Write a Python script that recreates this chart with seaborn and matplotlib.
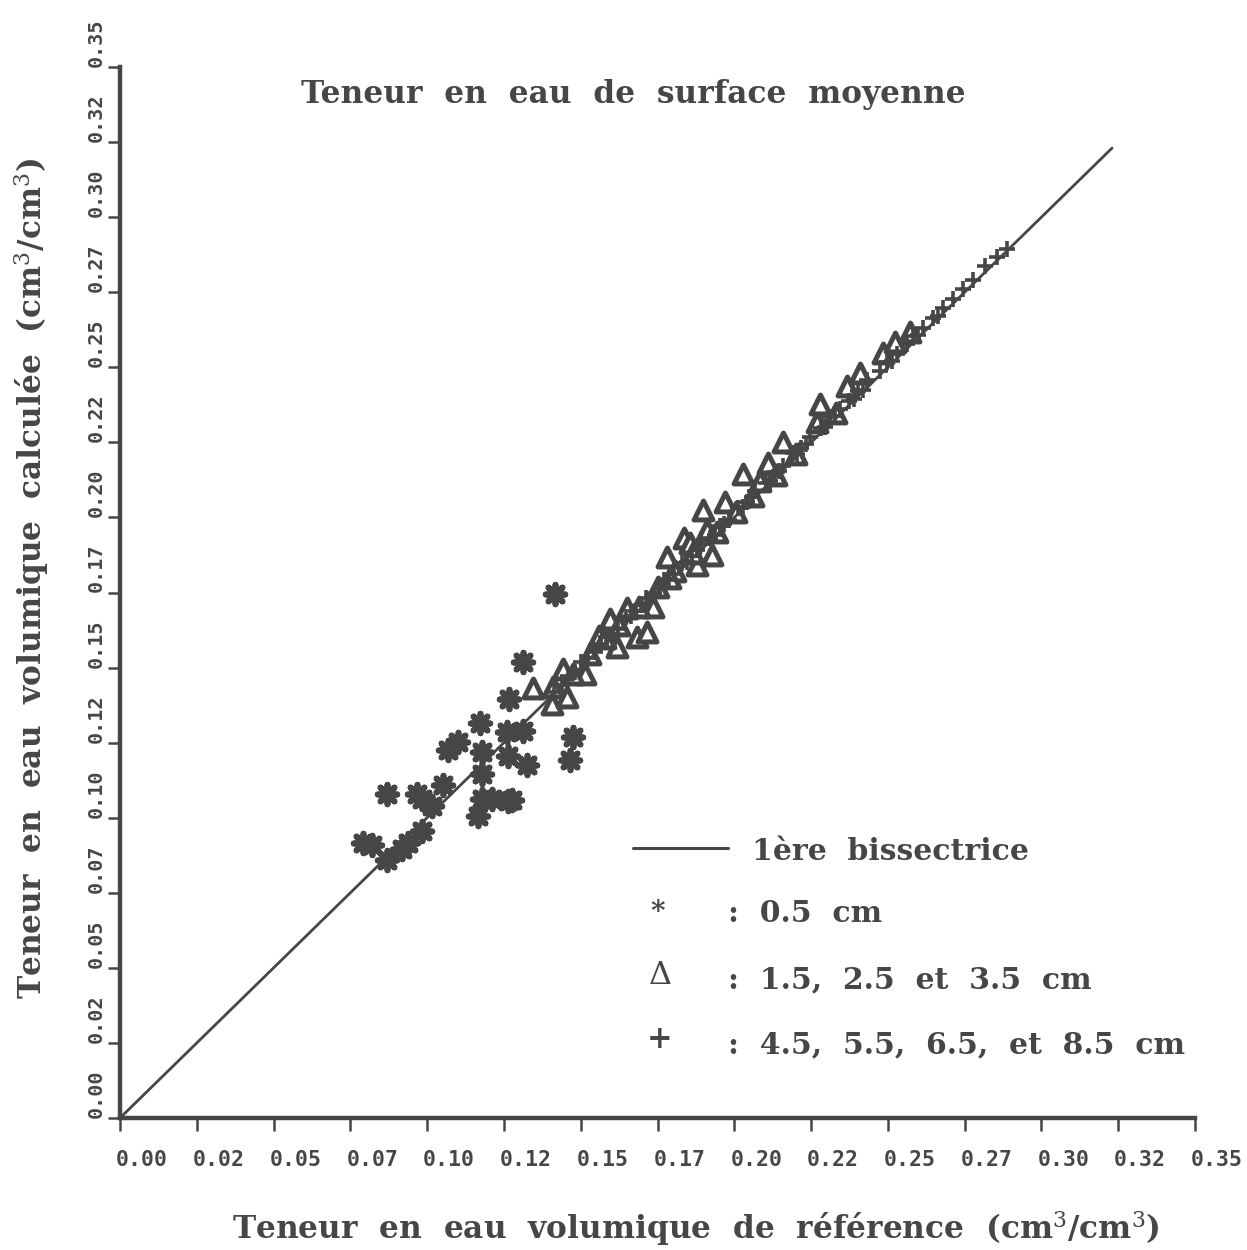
import matplotlib
matplotlib.use("Agg")
import matplotlib.pyplot as plt
from matplotlib.lines import Line2D
import matplotlib.transforms as mtransforms
import pandas as pd
import seaborn as sns

# Teneur en eau de référence (x) et calculée (y), cm3/cm3
etoile_x = [0.0791, 0.0820, 0.0869, 0.0918, 0.0938, 0.0983, 0.0869, 0.0967, 0.0983,
            0.1016, 0.1051, 0.1068, 0.1100, 0.1165, 0.1178, 0.1172, 0.1178, 0.1178,
            0.1263, 0.1276, 0.1263, 0.1266, 0.1260, 0.1312, 0.1325, 0.1312, 0.1416,
            0.1475, 0.1465, 0.1211]
etoile_y = [0.0916, 0.0910, 0.0859, 0.0895, 0.0915, 0.0956, 0.1079, 0.1080, 0.1063,
            0.1040, 0.1108, 0.1224, 0.1252, 0.1007, 0.1218, 0.1317, 0.1145, 0.1061,
            0.1054, 0.1058, 0.1207, 0.1396, 0.1287, 0.1289, 0.1176, 0.1518, 0.1744,
            0.1270, 0.1193, 0.1062]

triangle_x = [0.1344, 0.1410, 0.1406, 0.1455, 0.1514, 0.1475, 0.1442, 0.1595, 0.1650,
              0.1618, 0.1683, 0.1715, 0.1735, 0.1781, 0.1807, 0.1836, 0.1878, 0.1898,
              0.1911, 0.1927, 0.2028, 0.2109, 0.2158, 0.2269, 0.2279, 0.2367, 0.2484,
              0.2523, 0.2083, 0.1560, 0.1855, 0.1970, 0.2409, 0.2572, 0.1530, 0.1580,
              0.1625, 0.1690, 0.1752, 0.1790, 0.1865, 0.1945, 0.2005, 0.2060, 0.2135,
              0.2200, 0.2330]
triangle_y = [0.1432, 0.1435, 0.1378, 0.1403, 0.1478, 0.1480, 0.1495, 0.1663, 0.1698,
              0.1567, 0.1603, 0.1617, 0.1702, 0.1869, 0.1820, 0.1930, 0.1842, 0.2025,
              0.1959, 0.1874, 0.2146, 0.2181, 0.2250, 0.2319, 0.2377, 0.2439, 0.2549,
              0.2584, 0.2120, 0.1605, 0.1914, 0.2051, 0.2480, 0.2619, 0.1545, 0.1598,
              0.1641, 0.1702, 0.1768, 0.1797, 0.1880, 0.1951, 0.2018, 0.2071, 0.2142,
              0.2212, 0.2348]

plus_x = [0.1412, 0.1438, 0.1458, 0.1481, 0.1502, 0.1524, 0.1547, 0.1566, 0.1583,
          0.1604, 0.1621, 0.1648, 0.1663, 0.1679, 0.1697, 0.1712, 0.1738, 0.1755,
          0.1771, 0.1789, 0.1803, 0.1829, 0.1846, 0.1862, 0.1879, 0.1893, 0.1921,
          0.1937, 0.1954, 0.1968, 0.1982, 0.2013, 0.2027, 0.2041, 0.2058, 0.2069,
          0.2102, 0.2117, 0.2131, 0.2145, 0.2158, 0.2192, 0.2204, 0.2218, 0.2233,
          0.2247, 0.2283, 0.2296, 0.2311, 0.2329, 0.2344, 0.2372, 0.2389, 0.2403,
          0.2418, 0.2432, 0.2474, 0.2498, 0.2513, 0.2529, 0.2561, 0.2581, 0.2597,
          0.2614, 0.2646, 0.2662, 0.2679, 0.2712, 0.2744, 0.2777, 0.2816, 0.2855,
          0.2887]
plus_y = [0.1420, 0.1441, 0.1471, 0.1485, 0.1519, 0.1531, 0.1553, 0.1580, 0.1601,
          0.1607, 0.1630, 0.1667, 0.1672, 0.1688, 0.1710, 0.1731, 0.1749, 0.1760,
          0.1790, 0.1795, 0.1812, 0.1848, 0.1851, 0.1870, 0.1893, 0.1911, 0.1933,
          0.1941, 0.1970, 0.1979, 0.1990, 0.2032, 0.2034, 0.2052, 0.2067, 0.2088,
          0.2113, 0.2121, 0.2150, 0.2153, 0.2171, 0.2215, 0.2210, 0.2231, 0.2246,
          0.2268, 0.2297, 0.2302, 0.2334, 0.2338, 0.2362, 0.2389, 0.2396, 0.2421,
          0.2425, 0.2457, 0.2486, 0.2519, 0.2520, 0.2545, 0.2578, 0.2603, 0.2607,
          0.2630, 0.2664, 0.2671, 0.2698, 0.2729, 0.2760, 0.2790, 0.2836, 0.2867,
          0.2895]

bissectrice = [0.0, 0.323]

axis_ticks = [0.0, 0.025, 0.05, 0.075, 0.10, 0.125, 0.15, 0.175, 0.20, 0.225,
              0.25, 0.275, 0.30, 0.325, 0.35]
tick_labels = ["0.00", "0.02", "0.05", "0.07", "0.10", "0.12", "0.15", "0.17",
               "0.20", "0.22", "0.25", "0.27", "0.30", "0.32", "0.35"]

INK = "#464646"

sns.set_theme(style="white")
plt.rcParams["mathtext.fontset"] = "dejavuserif"
plt.rcParams["font.family"] = ["DejaVu Serif"]

W, H = 1247, 1250
fig = plt.figure(figsize=(W / 100, H / 100), dpi=100)
fig.patch.set_facecolor("white")
ax = fig.add_axes([120 / W, 1 - 1118 / H, (1195 - 120) / W, (1118 - 67) / H])
ax.set_facecolor("white")

# Diagonal y = x
sns.lineplot(x=bissectrice, y=bissectrice, ax=ax, color=INK, lw=2.0)

df_e = pd.DataFrame({"x": etoile_x, "y": etoile_y})
df_t = pd.DataFrame({"x": triangle_x, "y": triangle_y})
df_p = pd.DataFrame({"x": plus_x, "y": plus_y})

sns.scatterplot(data=df_t, x="x", y="y", ax=ax, marker="^", s=185,
                facecolor="white", edgecolor=INK, linewidth=3.6)
sns.scatterplot(data=df_p, x="x", y="y", ax=ax, marker="+", s=140,
                color=INK, linewidth=2.6)
sns.scatterplot(data=df_e, x="x", y="y", ax=ax, marker=(8, 2, 0), s=200,
                color=INK, linewidth=4.2, edgecolor=INK)

ax.set_xlim(0, 0.35)
ax.set_ylim(0, 0.35)
ax.set_xlabel("")
ax.set_ylabel("")

for side in ["top", "right"]:
    ax.spines[side].set_visible(False)
for side in ["left", "bottom"]:
    ax.spines[side].set_linewidth(3.2)
    ax.spines[side].set_color(INK)

ax.set_xticks(axis_ticks)
ax.set_yticks(axis_ticks)
ax.set_xticklabels(tick_labels, family="DejaVu Sans Mono", weight="bold", size=15.5)
ax.set_yticklabels(tick_labels, family="DejaVu Sans Mono", weight="bold", size=14.5)
ax.tick_params(axis="both", direction="out", length=9, width=1.8, color=INK,
               labelcolor=INK, bottom=True, left=True)
ax.tick_params(axis="x", pad=14)
ax.tick_params(axis="y", pad=1)
for lab in ax.get_yticklabels():
    lab.set_rotation(90)
    lab.set_va("bottom")
    lab.set_ha("right")
# x labels start just left of their tick
offset = mtransforms.ScaledTranslation(-4 / 100, 0, fig.dpi_scale_trans)
for lab in ax.get_xticklabels():
    lab.set_ha("left")
    lab.set_transform(lab.get_transform() + offset)

txt = dict(family="DejaVu Serif", weight="bold", color=INK)
FS = 22.5
FL = 21.5

fig.text(633 / W, 1 - 95 / H, "Teneur  en  eau  de  surface  moyenne",
         ha="center", va="center", fontsize=FS, **txt)
fig.text(32 / W, 1 - 578 / H,
         r"Teneur  en  eau  volumique  calculée  (cm$^3$/cm$^3$)",
         rotation=90, ha="center", va="center", fontsize=FS, **txt)
fig.text(696 / W, 1 - 1228 / H,
         r"Teneur  en  eau  volumique  de  référence  (cm$^3$/cm$^3$)",
         ha="center", va="center", fontsize=FS, **txt)

# Legend block
fig.add_artist(Line2D([633 / W, 728 / W], [1 - 848 / H, 1 - 848 / H],
                      color=INK, lw=2.2, transform=fig.transFigure))
fig.text(752 / W, 1 - 851 / H, "1ère  bissectrice", ha="left", va="center",
         fontsize=FL, **txt)
fig.text(658 / W, 1 - 912 / H, "*", ha="center", va="center", fontsize=20, **txt)
fig.text(728 / W, 1 - 913 / H, ":  0.5  cm", ha="left", va="center",
         fontsize=FL, **txt)
fig.text(660 / W, 1 - 975 / H, r"$\mathit{\Delta}$", ha="center", va="center",
         fontsize=23, color=INK)
fig.text(728 / W, 1 - 980 / H, ":  1.5,  2.5  et  3.5  cm", ha="left",
         va="center", fontsize=FL, **txt)
fig.text(660 / W, 1 - 1040 / H, "+", ha="center", va="center", fontsize=22, **txt)
fig.text(728 / W, 1 - 1045 / H, ":  4.5,  5.5,  6.5,  et  8.5  cm", ha="left",
         va="center", fontsize=FL, **txt)

fig.savefig("out.png", dpi=100, facecolor="white")
